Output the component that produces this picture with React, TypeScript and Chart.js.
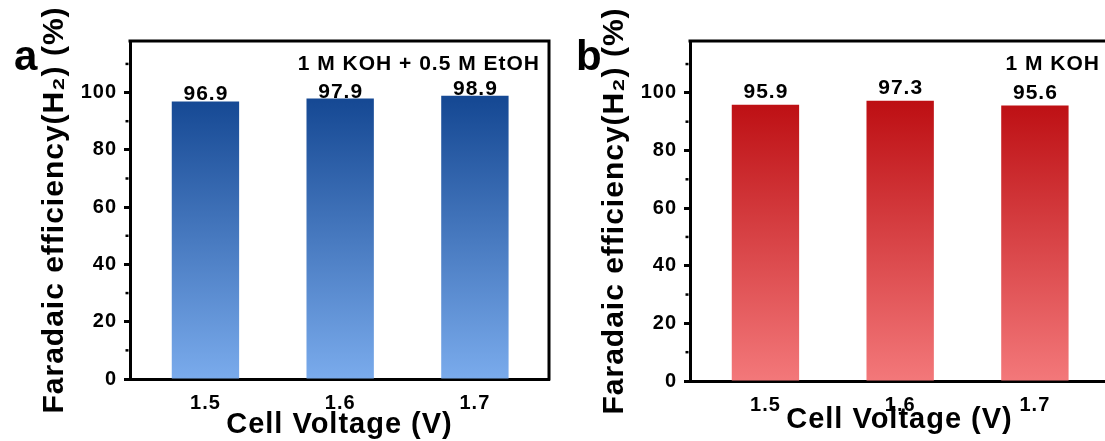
import React, { useEffect, useRef } from "react";
import { Chart, registerables } from "chart.js";

Chart.register(...registerables);

// ---- data ----
const VOLTAGES = [1.5, 1.6, 1.7];
const FE_KOH_ETOH = [96.9, 97.9, 98.9];
const FE_KOH = [95.9, 97.3, 95.6];
const Y_TICKS = [0, 20, 40, 60, 80, 100];
const Y_MINOR_TICKS = [10, 30, 50, 70, 90, 110];
const PANEL_LETTERS = ["a", "b"];
const ELECTROLYTES = ["1 M KOH + 0.5 M EtOH", "1 M KOH"];
const X_TITLE = "Cell Voltage (V)";
const Y_TITLE = "Faradaic efficiency(H\u2082) (%)";

const FONT = '"Liberation Sans", Arial, Helvetica, sans-serif';

type PanelProps = {
  values: number[];
  letter: string;
  note: string;
  topColor: string;
  bottomColor: string;
  labelGap: number;
  xAxisHeight: number;
  xTitleOffset: number;
  letterX: number;
  left: number;
};

const decorPlugin = {
  id: "decor",
  beforeDraw(chart: any) {
    chart.ctx.letterSpacing = "1px";
  },
  afterDraw(chart: any, _args: any, opts: any) {
    const { ctx, chartArea: a, scales } = chart;
    const ys = scales.y;
    ctx.save();
    ctx.letterSpacing = "1px";
    ctx.strokeStyle = "#000";
    ctx.lineWidth = 3;
    ctx.lineCap = "butt";
    // top & right frame
    ctx.beginPath();
    ctx.moveTo(a.left - 1.5, a.top);
    ctx.lineTo(a.right, a.top);
    ctx.lineTo(a.right, a.bottom + 1.5);
    ctx.stroke();
    // minor ticks
    ctx.lineWidth = 2.5;
    Y_MINOR_TICKS.forEach((v) => {
      const y = ys.getPixelForValue(v);
      ctx.beginPath();
      ctx.moveTo(a.left - 1.5, y);
      ctx.lineTo(a.left - 4.5, y);
      ctx.stroke();
    });
    // value labels
    ctx.fillStyle = "#000";
    ctx.font = `bold 21px ${FONT}`;
    ctx.textAlign = "center";
    ctx.textBaseline = "alphabetic";
    const meta = chart.getDatasetMeta(0);
    meta.data.forEach((bar: any, i: number) => {
      ctx.fillText(opts.values[i].toFixed(1), bar.x + 0.5, bar.y - opts.labelGap);
    });
    // electrolyte note
    ctx.textAlign = "right";
    ctx.font = `bold 21px ${FONT}`;
    ctx.fillText(opts.note, a.right - 9, 70);
    // panel letter
    ctx.textAlign = "left";
    ctx.letterSpacing = "0px";
    ctx.font = `bold 42px ${FONT}`;
    ctx.fillText(opts.letter, opts.letterX, 70);
    ctx.restore();
  },
};

function Panel(p: PanelProps) {
  const ref = useRef<HTMLCanvasElement | null>(null);
  useEffect(() => {
    if (!ref.current) return;
    const chart = new Chart(ref.current, {
      type: "bar",
      data: {
        datasets: [
          {
            data: VOLTAGES.map((x, i) => ({ x, y: p.values[i] })) as any,
            backgroundColor: (c: any) => {
              const ch = c.chart;
              if (!ch.chartArea || !ch.scales.y) return p.topColor;
              const ys = ch.scales.y;
              const g = ch.ctx.createLinearGradient(0, ys.getPixelForValue(97), 0, ys.getPixelForValue(0));
              g.addColorStop(0, p.topColor);
              g.addColorStop(1, p.bottomColor);
              return g;
            },
            borderWidth: 0,
            barPercentage: 0.5,
            categoryPercentage: 1,
          },
        ],
      },
      options: {
        responsive: false,
        animation: false,
        events: [],
        layout: { padding: { left: 0, top: 41, right: 11, bottom: 0 } },
        plugins: {
          legend: { display: false },
          tooltip: { enabled: false },
          decor: { values: p.values, labelGap: p.labelGap, note: p.note, letter: p.letter, letterX: p.letterX },
        } as any,
        scales: {
          x: {
            type: "linear",
            offset: false,
            min: 1.444,
            max: 1.755,
            afterBuildTicks: (s: any) => {
              s.ticks = VOLTAGES.map((v) => ({ value: v }));
            },
            afterFit: (s: any) => {
              s.height = p.xAxisHeight;
            },
            grid: { display: false, drawTicks: false },
            border: { display: true, width: 3, color: "#000" },
            ticks: {
              padding: 12,
              color: "#000",
              autoSkip: false,
              maxRotation: 0,
              font: { family: FONT, size: 20, weight: "bold" },
              callback: (v: any) => Number(v).toFixed(1),
            },
            title: {
              display: true,
              text: X_TITLE,
              color: "#000",
              font: { family: FONT, size: 29, weight: "bold", lineHeight: 1 },
              padding: { top: 0, bottom: p.xTitleOffset },
            },
          },
          y: {
            type: "linear",
            min: 0,
            max: 118,
            afterBuildTicks: (s: any) => {
              s.ticks = Y_TICKS.map((v) => ({ value: v }));
            },
            afterFit: (s: any) => {
              s.width = 130;
            },
            grid: {
              display: true,
              drawOnChartArea: false,
              drawTicks: true,
              tickLength: 6,
              tickWidth: 3,
              tickColor: "#000",
            },
            border: { display: true, width: 3, color: "#000" },
            ticks: {
              padding: 7,
              color: "#000",
              font: { family: FONT, size: 20, weight: "bold" },
            },
            title: {
              display: true,
              text: Y_TITLE,
              color: "#000",
              font: { family: FONT, size: 30, weight: "bold", lineHeight: 1.2 },
              padding: { top: 37, bottom: 0 },
            },
          },
        },
      } as any,
      plugins: [decorPlugin as any],
    });
    return () => chart.destroy();
  }, []);
  return (
    <canvas
      ref={ref}
      width={560}
      height={441}
      style={{ position: "absolute", left: p.left, top: 0, width: 560, height: 441 }}
    />
  );
}

export default function App() {
  return (
    <div
      style={{
        position: "fixed",
        left: 0,
        top: 0,
        width: 1105,
        height: 441,
        overflow: "hidden",
        background: "#fff",
      }}
    >
      <Panel
        values={FE_KOH_ETOH}
        letter={PANEL_LETTERS[0]}
        note={ELECTROLYTES[0]}
        topColor="#164994"
        bottomColor="#7aabec"
        labelGap={1}
        xAxisHeight={62}
        xTitleOffset={2}
        letterX={14}
        left={0}
      />
      <Panel
        values={FE_KOH}
        letter={PANEL_LETTERS[1]}
        note={ELECTROLYTES[1]}
        topColor="#bd0f13"
        bottomColor="#f3787a"
        labelGap={7}
        xAxisHeight={60}
        xTitleOffset={7}
        letterX={16}
        left={560}
      />
    </div>
  );
}
